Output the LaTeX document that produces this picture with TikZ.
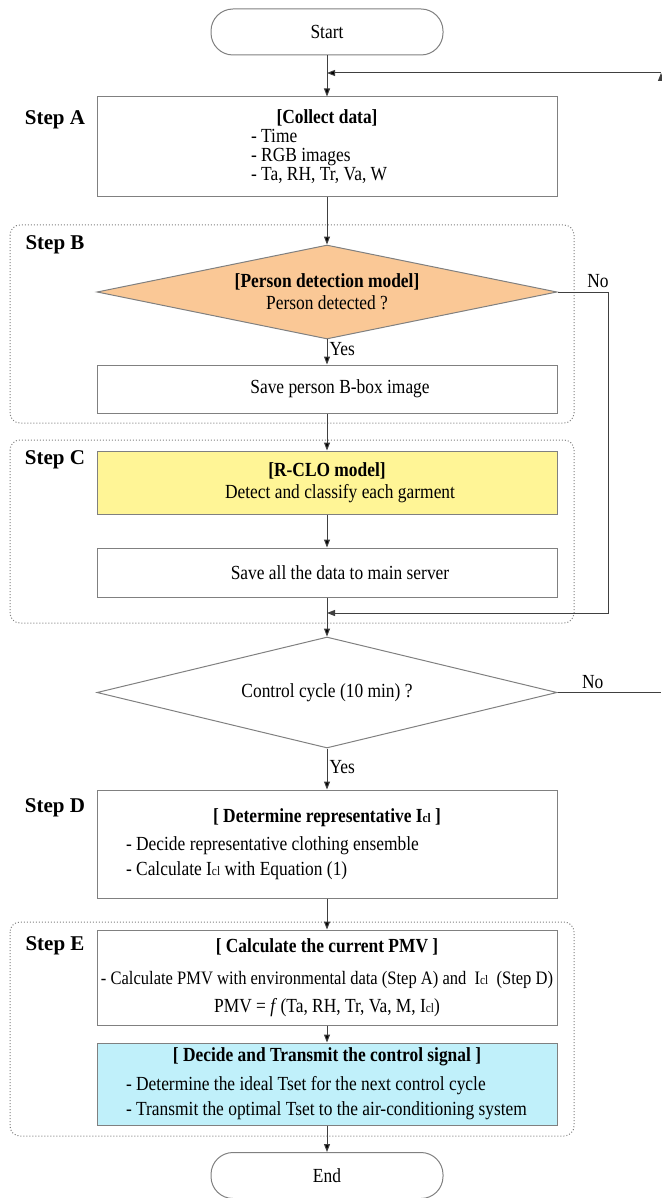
\documentclass[tikz,border=0pt]{standalone}
\usepackage{fontspec}
\setmainfont[FakeStretch=0.87]{Liberation Serif}
\newfontfamily\steplabelfont{Liberation Serif}
\usetikzlibrary{arrows.meta, shapes.geometric}

\definecolor{detectorange}{RGB}{250,200,150}
\definecolor{modelyellow}{RGB}{255,245,150}
\definecolor{signalcyan}{RGB}{192,240,250}
\definecolor{framegray}{RGB}{128,128,128}

\newcommand{\Icl}{I{\fontsize{13}{13}\selectfont cl}}

\begin{document}
\begin{tikzpicture}[x=1pt,y=-1pt,>={Triangle[length=8pt,width=6pt]},
  font=\fontsize{20}{19}\selectfont,
  box/.style={draw=framegray, line width=1pt, minimum width=460pt, inner sep=0pt, align=center},
  decision/.style={diamond, draw=framegray, line width=1pt, minimum width=460pt, inner sep=0pt, align=center},
  terminal/.style={draw=framegray, line width=1pt, rounded corners=22pt, minimum width=232pt, minimum height=46pt},
  steplabel/.style={font=\steplabelfont\fontsize{21}{24}\selectfont\bfseries},
  group/.style={draw=framegray, dotted, line width=1pt, rounded corners=10pt},
  line/.style={draw=black!75, line width=1pt}]

\useasboundingbox (0,0) rectangle (661,1198);

% define the dotted step groups
  \draw[group] (10,225) rectangle (574,423);
  \draw[group] (10,440) rectangle (574,623);
  \draw[group] (10,922) rectangle (574,1136);

% define the blocks
  \node[terminal]    (start)    at (327,32)
{Start};
  \node[box, minimum height=100pt]    (collect)  at (327,147)
{\textbf{[Collect data]}\\ \makebox[152pt][l]{- Time}\\ \makebox[152pt][l]{- RGB images}\\ \makebox[152pt][l]{- Ta, RH, Tr, Va, W}};
  \node[decision, fill=detectorange, aspect=4.9, minimum height=94pt]   (detect)   at (327,292)
{\textbf{[Person detection model]}\\[3pt] Person detected ?};
  \node[box, minimum height=48pt]    (savebox)  at (327,389)
{\hspace*{26pt}Save person B-box image};
  \node[box, fill=modelyellow, minimum height=63pt]   (rclo)   at (327,482.5)
{\textbf{[R-CLO model]}\\[3pt] \hspace*{26pt}Detect and classify each garment};
  \node[box, minimum height=49pt]    (saveall)  at (327,572.5)
{\hspace*{26pt}Save all the data to main server};
  \node[decision, aspect=4.14, minimum height=111pt]   (cycle)   at (327,692.5)
{Control cycle (10 min) ?};
  \node[box, minimum height=108pt]    (represent)  at (327,844)
{\textbf{[ Determine representative \Icl\ ]}\\[9pt] \makebox[402pt][l]{- Decide representative clothing ensemble}\\[6pt] \makebox[402pt][l]{- Calculate \Icl\ with Equation (1)}};
  \node[box, minimum height=95pt]    (pmv)  at (327,977.5)
{\textbf{[ Calculate the current PMV ]}\\[13pt] {\fontsize{19}{19}\selectfont - Calculate PMV with environmental data (Step A) and \ \Icl\ \ (Step D)}\\[9pt] PMV = \textit{f}\,(Ta, RH, Tr, Va, M, \Icl)};
  \node[box, fill=signalcyan, minimum height=82pt]   (signal)   at (327,1084)
{\textbf{[ Decide and Transmit the control signal ]}\\[10pt] \makebox[402pt][l]{- Determine the ideal Tset for the next control cycle}\\[6pt] \makebox[402pt][l]{- Transmit the optimal Tset to the air-conditioning system}};
  \node[terminal]    (end)    at (327,1175.5)
{End};

% define the step labels
  \node[steplabel]   (labelA)   at (55,120)   {Step A};
  \node[steplabel]   (labelB)   at (55,245)   {Step B};
  \node[steplabel]   (labelC)   at (55,460)   {Step C};
  \node[steplabel]   (labelD)   at (55,808)   {Step D};
  \node[steplabel]   (labelE)   at (55,946)   {Step E};

% define the loop points
  \coordinate (loopentry) at (661,73);
  \coordinate (loopjoin)  at (327,73);
  \coordinate (bypass)    at (608,292);
  \coordinate (merge)     at (327,613);
  \coordinate (cycleexit) at (661,692.5);

% define the links
  \path[line,->] (start) edge (collect)
        (loopentry) edge (loopjoin)
        (collect) edge (detect)
        (detect) edge node[right, pos=0.4, inner sep=2pt] {Yes} (savebox)
        (savebox) edge (rclo)
        (rclo) edge (saveall)
        (saveall) edge (cycle)
        (cycle) edge node[right, pos=0.45, inner sep=2pt] {Yes} (represent)
        (represent) edge (pmv)
        (pmv) edge (signal)
        (signal) edge (end);
  \draw[line,->] (detect.east) -- node[above, pos=0.8] {No} (bypass) |- (merge);
  \draw[line] (cycle.east) -- node[above, pos=0.34] {No} (cycleexit);

\end{tikzpicture}
\end{document}
